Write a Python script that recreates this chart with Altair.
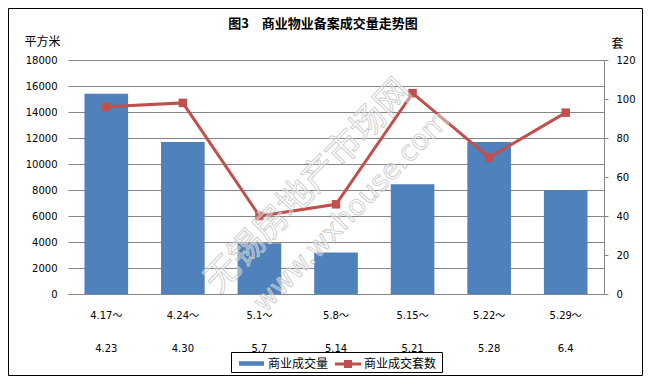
import altair as alt
import pandas as pd

# ---- data ----
starts = ["4.17", "4.24", "5.1", "5.8", "5.15", "5.22", "5.29"]
ends = ["4.23", "4.30", "5.7", "5.14", "5.21", "5.28", "6.4"]
area = [15400, 11700, 3900, 3200, 8450, 11700, 8000]       # 商业成交量 (平方米)
units = [96, 98, 40, 46, 103, 70, 93]                       # 商业成交套数 (套)
left_ticks = [0, 2000, 4000, 6000, 8000, 10000, 12000, 14000, 16000, 18000]
right_ticks = [0, 20, 40, 60, 80, 100, 120]

cats = [f"{s}～|{e}" for s, e in zip(starts, ends)]
df = pd.DataFrame({"period": cats, "area": area, "units": units,
                   "s1": ["商业成交量"] * 7, "s2": ["商业成交套数"] * 7})

W, H = 536, 234
BLUE, RED = "#4F81BD", "#C0504D"
NUM_FONT = "DejaVu Sans"
CJK = "Noto Sans CJK SC"

x = alt.X("period:N", sort=cats, title=None,
          scale=alt.Scale(paddingInner=0.43, paddingOuter=0.215),
          axis=alt.Axis(labelExpr="split(datum.label, '|')", labelAngle=0,
                        labelLineHeight=33, labelBaseline="top", labelPadding=16,
                        ticks=False, domain=True, domainColor="#868686",
                        labelFont=NUM_FONT + ", " + CJK, labelFontSize=10,
                        labelColor="black"))

bars = alt.Chart(df).mark_bar().encode(
    x=x,
    y=alt.Y("area:Q", scale=alt.Scale(domain=[0, 18000], nice=False),
            axis=alt.Axis(values=left_ticks, format="d", title="平方米", titleAngle=0,
                          titleX=-26, titleY=-19, titleAlign="center",
                          titleBaseline="middle", titleFont=CJK, titleFontSize=12,
                          titleFontWeight="normal", titleColor="black",
                          domain=False, ticks=False, labelPadding=11,
                          labelFont=NUM_FONT, labelFontSize=10, labelColor="black",
                          grid=True, gridColor="#868686", gridWidth=1)),
    fill=alt.Fill("s1:N", scale=alt.Scale(domain=["商业成交量"], range=[BLUE]),
                  legend=alt.Legend(title=None, orient="none", legendX=171, legendY=291,
                                    symbolType="M-1,-0.18H1V0.18H-1Z", symbolSize=625,
                                    symbolStrokeWidth=0, labelFont=CJK, labelFontSize=12,
                                    labelColor="black", labelOffset=4, padding=0)),
)

yr = alt.Y("units:Q", scale=alt.Scale(domain=[0, 120], nice=False),
           axis=alt.Axis(values=right_ticks, orient="right", title="套", titleAngle=0,
                         titleX=13, titleY=-17, titleAlign="center",
                         titleBaseline="middle", titleFont=CJK, titleFontSize=12,
                         titleFontWeight="normal", titleColor="black",
                         domain=True, domainColor="#868686", ticks=True,
                         tickColor="#868686", tickSize=4, labelPadding=8,
                         labelFont=NUM_FONT, labelFontSize=10, labelColor="black",
                         grid=False))

line = alt.Chart(df).mark_line(color=RED, strokeWidth=3).encode(x=x, y=yr)
pts = alt.Chart(df).mark_square(size=72, opacity=1).encode(
    x=x, y=alt.Y("units:Q", scale=alt.Scale(domain=[0, 120], nice=False), axis=None),
    color=alt.Color("s2:N", scale=alt.Scale(domain=["商业成交套数"], range=[RED]),
                    legend=alt.Legend(title=None, orient="none", legendX=267, legendY=291,
                                      symbolType="M-1,-0.115H1V0.115H-1Z M-0.31,-0.31H0.31V0.31H-0.31Z",
                                      symbolSize=676, symbolStrokeWidth=0,
                                      symbolFillColor=RED, labelFont=CJK, labelFontSize=12,
                                      labelColor="black", labelOffset=3, padding=0)),
)

# watermark (faint outlined text)
wm1 = alt.Chart(df.head(1)).mark_text(
    text="无锡房地产市场网", angle=314, font=CJK, fontSize=35, fill="white",
    fillOpacity=0.35, stroke="#c8c8c8", strokeWidth=0.8, align="center",
    baseline="middle").encode(x=alt.value(240), y=alt.value(126))
wm2 = alt.Chart(df.head(1)).mark_text(
    text="www.wxhouse.com", angle=314, font="DejaVu Sans", fontSize=28, fill="white",
    fillOpacity=0.35, stroke="#c8c8c8", strokeWidth=0.8, align="center",
    baseline="middle").encode(x=alt.value(284), y=alt.value(152))

# chart title, legend frame and outer frame
title = alt.Chart(df.head(1)).mark_text(
    text="图3\u3000商业物业备案成交量走势图", font=CJK, fontSize=13, fontWeight="bold",
    color="black", align="center", baseline="middle").encode(
    x=alt.value(255), y=alt.value(-36))
legend_box = alt.Chart(df.head(1)).mark_rect(
    fill=None, stroke="black", strokeWidth=1).encode(
    x=alt.value(163.5), x2=alt.value(374.5), y=alt.value(292.5), y2=alt.value(312.5))
frame = alt.Chart(df.head(1)).mark_rect(
    fill=None, stroke="black", strokeWidth=1).encode(
    x=alt.value(-59.5), x2=alt.value(574.5), y=alt.value(-51.5), y2=alt.value(315.5))

chart = alt.layer(bars, line, pts, wm1, wm2, title, legend_box, frame).resolve_scale(
    y="independent").properties(
    width=W, height=H,
    autosize=alt.AutoSizeParams(type="none"),
    padding={"left": 60, "top": 52, "right": 39, "bottom": 82},
    background="white",
).configure_view(stroke=None)

chart.save("out.html", embed_options={"renderer": "svg", "actions": False})
